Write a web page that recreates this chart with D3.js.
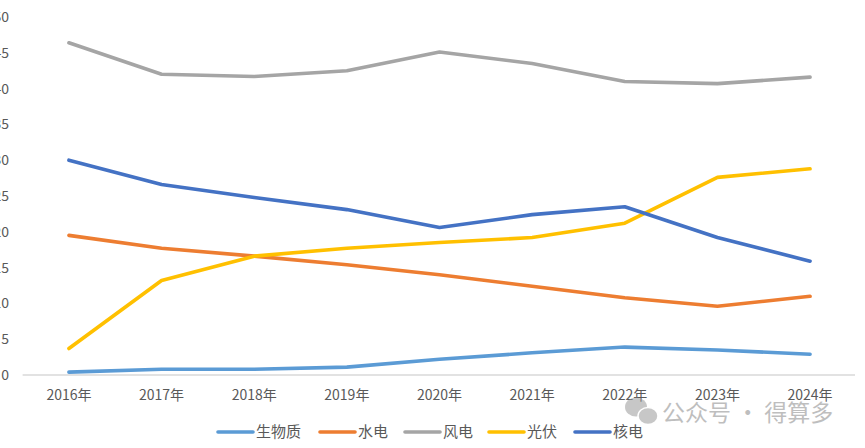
<!DOCTYPE html>
<html>
<head>
<meta charset="utf-8">
<script src="https://cdn.jsdelivr.net/npm/d3@7"></script>
<style>
  body { margin: 0; background: #fff; }
  svg { display: block; }
  .lbl { font-family: "Noto Sans CJK SC", "Noto Sans", sans-serif; fill: #595959; }
</style>
</head>
<body>
<div id="chart"></div>
<script>
var years = ["2016年","2017年","2018年","2019年","2020年","2021年","2022年","2023年","2024年"];
var seriesNames = ["生物质","水电","风电","光伏","核电"];
var seriesColors = ["#5B9BD5","#ED7D31","#A5A5A5","#FFC000","#4472C4"];
var biomass = [0.4, 0.8, 0.8, 1.1, 2.2, 3.1, 3.9, 3.5, 2.9];
var hydro   = [19.5, 17.7, 16.6, 15.4, 14.0, 12.4, 10.8, 9.6, 11.0];
var wind    = [46.4, 42.0, 41.7, 42.5, 45.1, 43.5, 41.0, 40.7, 41.6];
var solar   = [3.7, 13.2, 16.6, 17.7, 18.5, 19.2, 21.2, 27.6, 28.8];
var nuclear = [30.0, 26.6, 24.8, 23.1, 20.6, 22.4, 23.5, 19.2, 15.9];
var yTicks  = [0, 5, 10, 15, 20, 25, 30, 35, 40, 45, 50];

var width = 865, height = 448;
var allSeries = [biomass, hydro, wind, solar, nuclear];

var svg = d3.select("#chart").append("svg")
    .attr("width", width)
    .attr("height", height);

var x = d3.scaleBand()
    .domain(years)
    .range([22.6, 856.4]);

var y = d3.scaleLinear()
    .domain([0, 50])
    .range([375, 17]);

// y labels (only the last digit shows, the rest falls off the left edge)
svg.append("g").selectAll("text")
    .data(yTicks)
    .enter().append("text")
    .attr("class", "lbl")
    .attr("x", 9)
    .attr("y", function(d){ return y(d); })
    .attr("dy", "0.36em")
    .attr("text-anchor", "end")
    .style("font-size", "14px")
    .text(function(d){ return d; });

// baseline
svg.append("line")
    .attr("x1", x.range()[0]).attr("x2", 855)
    .attr("y1", y(0)).attr("y2", y(0))
    .attr("stroke", "#D9D9D9")
    .attr("stroke-width", 1.3);

// x labels
svg.append("g").selectAll("text")
    .data(years)
    .enter().append("text")
    .attr("class", "lbl")
    .attr("x", function(d){ return x(d) + x.bandwidth()/2; })
    .attr("y", 400)
    .attr("text-anchor", "middle")
    .style("font-size", "14px")
    .text(function(d){ return d; });

var line = d3.line()
    .x(function(d, i){ return x(years[i]) + x.bandwidth()/2; })
    .y(function(d){ return y(d); });

svg.append("g").selectAll("path")
    .data(allSeries)
    .enter().append("path")
    .attr("d", line)
    .attr("fill", "none")
    .attr("stroke", function(d, i){ return seriesColors[i]; })
    .attr("stroke-width", 3.6)
    .attr("stroke-linejoin", "round")
    .attr("stroke-linecap", "round");

// legend
var legendX = [218, 320, 405, 489, 575];
var legend = svg.append("g").selectAll("g")
    .data(seriesNames)
    .enter().append("g")
    .attr("transform", function(d, i){ return "translate(" + legendX[i] + ",432)"; });

legend.append("line")
    .attr("x1", 0).attr("x2", 35)
    .attr("stroke", function(d, i){ return seriesColors[i]; })
    .attr("stroke-width", 3.6)
    .attr("stroke-linecap", "round");

legend.append("text")
    .attr("class", "lbl")
    .attr("x", 38)
    .attr("dy", "0.36em")
    .style("font-size", "15px")
    .text(function(d){ return d; });

// watermark
var wm = svg.append("g").attr("opacity", 0.55);
wm.append("ellipse").attr("cx", 636).attr("cy", 407).attr("rx", 11).attr("ry", 9.5).attr("fill", "#9a9a9a");
wm.append("ellipse").attr("cx", 648).attr("cy", 416).attr("rx", 10).attr("ry", 8.5).attr("fill", "#9a9a9a").attr("stroke", "#fff").attr("stroke-width", 1.5);
wm.append("text")
    .attr("x", 662)
    .attr("y", 413)
    .attr("dy", "0.36em")
    .style("font-family", "'Noto Sans CJK SC', sans-serif")
    .style("font-size", "23px")
    .attr("fill", "#8a8a8a")
    .text("公众号 · 得算多");
</script>
</body>
</html>
